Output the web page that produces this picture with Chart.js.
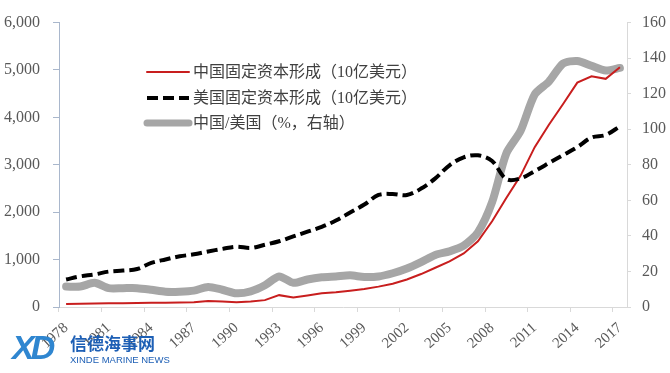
<!DOCTYPE html>
<html>
<head>
<meta charset="utf-8">
<script src="https://cdn.jsdelivr.net/npm/chart.js@4/dist/chart.umd.min.js"></script>
<style>
  body { margin: 0; background: #fff; }
  #wrap { position: relative; width: 670px; height: 373px; }
  #logo { position: absolute; left: 12px; top: 330px; }
  #logo .xd { position: absolute; left: 0; top: -2px; font: italic bold 34px 'Liberation Sans', sans-serif; color: #2f86d0; letter-spacing: -4px; }
  #logo .cn { position: absolute; left: 58px; top: 4px; font: bold 17px 'Noto Sans CJK SC', sans-serif; color: #1d5fb5; white-space: nowrap; line-height: 17px; }
  #logo .en { position: absolute; left: 58px; top: 24px; font: 9.5px 'Liberation Sans', sans-serif; color: #1d5fb5; white-space: nowrap; }
</style>
</head>
<body>
<div id="wrap">
  <canvas id="chart" width="670" height="373"></canvas>
  <div id="logo"><span class="xd">XD</span><span class="cn">信德海事网</span><span class="en">XINDE MARINE NEWS</span></div>
</div>
<script>
const years = [];
for (let y = 1978; y <= 2017; y++) years.push(String(y));

// 中国固定资本形成（10亿美元）
const chinaGfcf = [61, 67, 74, 80, 80, 82, 88, 90, 94, 100,
  128, 114, 100, 114, 145, 250, 200, 245, 290, 310,
  345, 378, 430, 490, 580, 695, 828, 963, 1131, 1387,
  1810, 2300, 2767, 3373, 3844, 4282, 4733, 4868, 4814, 5056];

// 美国固定资本形成（10亿美元）
const usGfcf = [580, 646, 687, 747, 768, 801, 929, 1003, 1070, 1111,
  1172, 1226, 1273, 1246, 1313, 1387, 1488, 1589, 1690, 1824,
  1993, 2161, 2363, 2384, 2363, 2498, 2713, 2990, 3157, 3200,
  3080, 2700, 2713, 2868, 3036, 3206, 3373, 3575, 3630, 3811];

// 中国/美国（%，右轴）
const ratio = [11.5, 11.5, 13.6, 10.6, 10.6, 10.6, 9.7, 8.6, 8.6, 9.2,
  11.3, 9.7, 7.7, 8.8, 12.2, 17.2, 13.6, 15.5, 16.7, 17.2,
  17.8, 16.9, 17.2, 19.0, 21.7, 25.3, 29.3, 31.3, 34.5, 42,
  59, 86.4, 99, 119.6, 126.8, 137, 138.4, 135.7, 133.1, 134.5];

const seriesNames = ['中国固定资本形成（10亿美元）', '美国固定资本形成（10亿美元）', '中国/美国（%，右轴）'];

const tickFont = { family: "'Liberation Serif', serif", size: 16 };
const tickColor = '#595959';

// legend drawn inside the plot, like the original
const legendInside = {
  id: 'legendInside',
  afterDraw(chart) {
    const ctx = chart.ctx;
    const rows = [72, 98, 123];
    chart.data.datasets.forEach((ds, i) => {
      const y = rows[i];
      ctx.save();
      ctx.strokeStyle = ds.borderColor;
      ctx.lineWidth = ds.legendWidth;
      ctx.setLineDash(ds.borderDash || []);
      ctx.lineCap = ds.borderDash ? 'butt' : 'round';
      ctx.beginPath();
      ctx.moveTo(147, y);
      ctx.lineTo(189, y);
      ctx.stroke();
      ctx.setLineDash([]);
      ctx.fillStyle = '#404040';
      ctx.font = "16px 'Liberation Serif', 'Noto Sans CJK SC'";
      ctx.textBaseline = 'middle';
      ctx.fillText(ds.label, 193, y + 1);
      ctx.restore();
    });
  }
};

new Chart(document.getElementById('chart'), {
  type: 'line',
  data: {
    labels: years,
    datasets: [{
      label: seriesNames[0],
      data: chinaGfcf,
      yAxisID: 'y',
      borderColor: '#c81e1e',
      borderWidth: 2,
      legendWidth: 2,
      pointRadius: 0,
      tension: 0,
      order: 1
    }, {
      label: seriesNames[1],
      data: usGfcf,
      yAxisID: 'y',
      borderColor: '#000000',
      borderWidth: 4,
      legendWidth: 4,
      borderDash: [11, 5],
      borderCapStyle: 'butt',
      pointRadius: 0,
      tension: 0.35,
      order: 0
    }, {
      label: seriesNames[2],
      data: ratio,
      yAxisID: 'y1',
      borderColor: '#a6a6a6',
      borderWidth: 8,
      legendWidth: 7,
      borderJoinStyle: 'round',
      borderCapStyle: 'round',
      pointRadius: 0,
      tension: 0.25,
      order: 2
    }]
  },
  options: {
    responsive: false,
    animation: false,
    devicePixelRatio: 1,
    layout: { padding: { top: 10, left: 0, right: 0, bottom: 0 } },
    plugins: { legend: { display: false }, tooltip: { enabled: false } },
    scales: {
      x: {
        offset: true,
        grid: {
          offset: true,
          drawOnChartArea: false,
          tickLength: 5,
          tickColor: (c) => (c.index % 3 === 0 ? '#d9d9d9' : 'rgba(0,0,0,0)')
        },
        border: { color: '#d9d9d9', width: 1 },
        ticks: {
          autoSkip: false,
          minRotation: 42,
          maxRotation: 42,
          padding: 7,
          color: tickColor,
          font: { family: "'Liberation Serif', serif", size: 15 },
          callback: function (v, i) { return i % 3 === 0 ? this.getLabelForValue(v) : ''; }
        },
        afterFit: (s) => { s.height = 66; }
      },
      y: {
        position: 'left',
        min: 0,
        max: 6000,
        grid: { drawOnChartArea: false, tickLength: 6, tickColor: '#a9b7cc' },
        border: { color: '#a9b7cc', width: 1 },
        ticks: {
          stepSize: 1000,
          padding: 13,
          color: tickColor,
          font: tickFont,
          callback: (v) => v.toLocaleString('en-US')
        },
        afterFit: (s) => { s.width = 59; }
      },
      y1: {
        position: 'right',
        min: 0,
        max: 160,
        grid: { drawOnChartArea: false, tickLength: 4, tickColor: '#d9d9d9' },
        border: { color: '#d9d9d9', width: 1 },
        ticks: {
          stepSize: 10,
          padding: 11,
          color: tickColor,
          font: tickFont,
          callback: (v) => (v % 20 === 0 ? v : '')
        },
        afterFit: (s) => { s.width = 43; }
      }
    }
  },
  plugins: [legendInside]
});
</script>
</body>
</html>
